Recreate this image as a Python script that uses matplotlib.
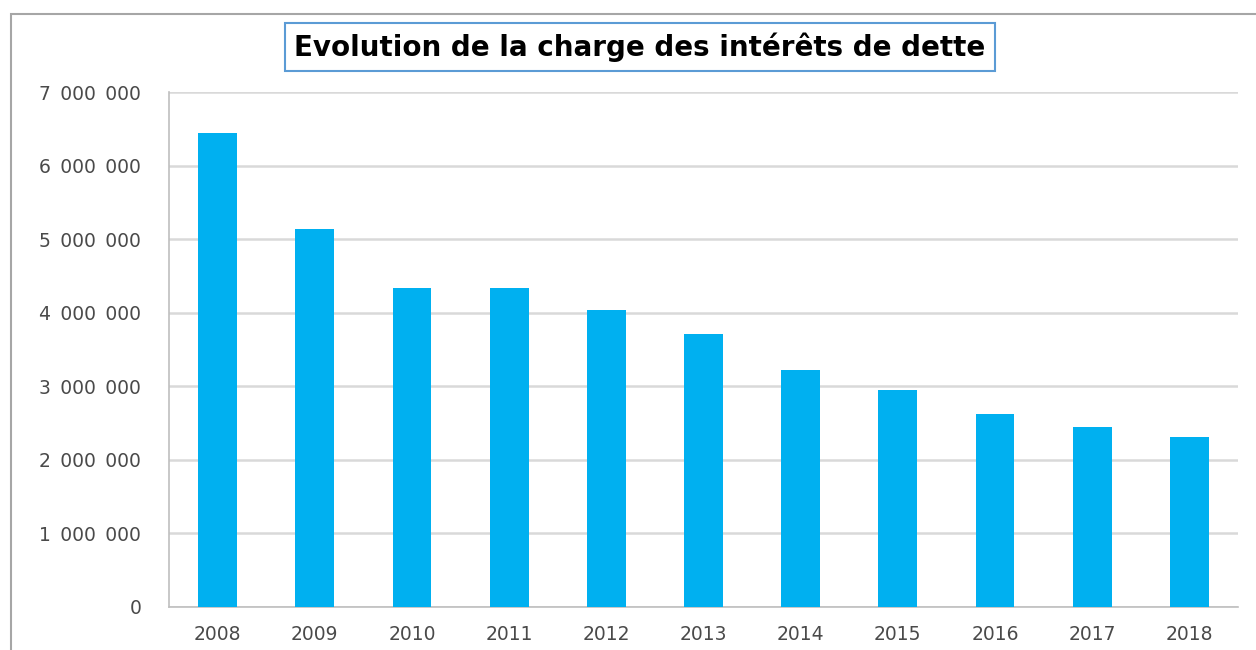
import matplotlib.pyplot as plt
from matplotlib.patches import Rectangle
from matplotlib.ticker import FuncFormatter

# data
years = ['2008', '2009', '2010', '2011', '2012', '2013',
         '2014', '2015', '2016', '2017', '2018']
charges = [6440000, 5140000, 4340000, 4340000, 4040000, 3710000,
           3220000, 2950000, 2620000, 2450000, 2310000]

W, H = 1256, 650
fig = plt.figure(figsize=(W / 100, H / 100), dpi=100)

# outer frame of the chart (cut off on the right and bottom)
fig.patches.append(Rectangle((11 / W, -0.1), 1.2, 1 - 14 / H + 0.1,
                             transform=fig.transFigure, fill=False,
                             edgecolor='#a6a6a6', linewidth=1.5))

ax = fig.add_axes([169 / W, 1 - 607 / H, (1238 - 169) / W, (607 - 92) / H])
x = range(len(years))
ax.bar(x, charges, width=0.4, color='#00b0f0', zorder=3)

ax.set_xlim(-0.5, len(years) - 0.5)
ax.set_ylim(0, 7000000)
ax.set_yticks(range(0, 7000001, 1000000))
# thousands separated by a wide space, as in the original
ax.yaxis.set_major_formatter(
    FuncFormatter(lambda v, p: f'{int(v):,}'.replace(',', '\u2002')))
ax.set_xticks(list(x))
ax.set_xticklabels(years)
ax.tick_params(axis='both', length=0, labelsize=13.5, colors='#4a4a4a')
ax.tick_params(axis='y', pad=20)
ax.tick_params(axis='x', pad=13)
for lab in ax.get_xticklabels() + ax.get_yticklabels():
    lab.set_fontfamily('DejaVu Sans')

ax.grid(axis='y', color='#d9d9d9', linewidth=1.8, zorder=0)
for side in ['top', 'right']:
    ax.spines[side].set_visible(False)
ax.spines['left'].set_color('#bfbfbf')
ax.spines['bottom'].set_color('#bfbfbf')
ax.spines['left'].set_linewidth(1.2)
ax.spines['bottom'].set_linewidth(1.2)

fig.text(640 / W, 1 - 47 / H, 'Evolution de la charge des intérêts de dette',
         ha='center', va='center', fontsize=20, fontweight='bold',
         family='DejaVu Sans', color='black',
         bbox=dict(boxstyle='square,pad=0.35', facecolor='white',
                   edgecolor='#5b9bd5', linewidth=1.5))

fig.savefig('out.png', dpi=100)
